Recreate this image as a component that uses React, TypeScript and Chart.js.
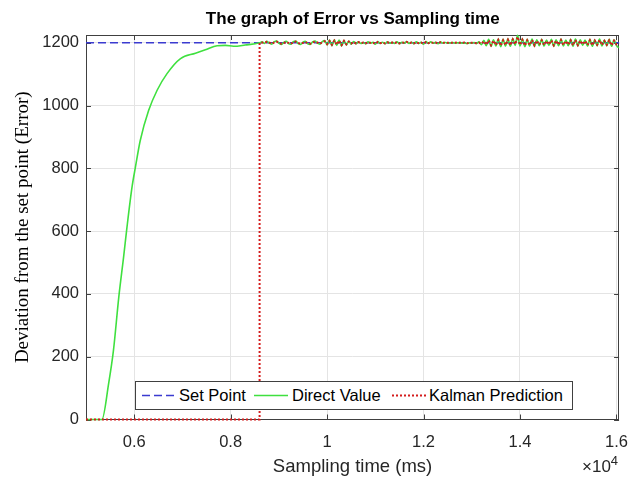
import React, { useEffect, useRef } from 'react';
import { Chart, registerables } from 'chart.js';

Chart.register(...registerables);

// ---------------- data ----------------
const titleText = 'The graph of Error vs Sampling time';
const xTitle = 'Sampling time (ms)';
const yTitle = 'Deviation from the set point (Error)';
const seriesNames = ['Set Point', 'Direct Value', 'Kalman Prediction'];

const xLimits = [5000, 16055];
const yLimits = [0, 1225];
const xTickValues = [6000, 8000, 10000, 12000, 14000, 16000];
const xTickLabels = ['0.6', '0.8', '1', '1.2', '1.4', '1.6'];
const yTickValues = [0, 200, 400, 600, 800, 1000, 1200];

const setPointTimes = [5000, 16055];
const setPointValues = [1200, 1200];

// Direct value: rise phase
const rampTimes = [5000, 5330, 5470, 5570, 5680, 5780, 5850, 5955, 6025, 6125, 6300, 6475, 6680, 6960, 7270, 7475, 7720, 7890, 8060, 8300, 8600];
const rampDirect = [0, 0, 115, 221, 390, 518, 613, 741, 804, 889, 985, 1049, 1102, 1150, 1167, 1178, 1191, 1192, 1189, 1193, 1200];

// Kalman prediction: before it engages
const kalmanStartTimes = [5000, 8600, 8600];
const kalmanStartValues = [0, 0, 1200];

// steady phase sampled every 50 ms from 8650
const steadyStart = 8650;
const steadyStep = 50;
const steadyDirect = [
  1203, 1198, 1205, 1199, 1196, 1203, 1206, 1199, 1195, 1201,
  1205, 1198, 1196, 1204, 1206, 1198, 1195, 1202, 1205, 1197,
  1195, 1203, 1206, 1199, 1196, 1204, 1207, 1193, 1209, 1191,
  1210, 1192, 1209, 1190, 1208, 1193, 1206, 1196, 1204, 1197,
  1203, 1198, 1201, 1197, 1203, 1199, 1202, 1196, 1204, 1198,
  1202, 1197, 1203, 1199, 1202, 1198, 1203, 1197, 1202, 1199,
  1204, 1198, 1202, 1197, 1203, 1198, 1202, 1196, 1204, 1198,
  1203, 1199, 1202, 1197, 1203, 1199, 1201, 1199, 1200, 1201,
  1199, 1200, 1201, 1199, 1200, 1198, 1200, 1199, 1201, 1198,
  1203, 1194, 1208, 1191, 1211, 1189, 1210, 1190, 1212, 1188,
  1211, 1190, 1213, 1189, 1214, 1192, 1224, 1190, 1213, 1188,
  1211, 1190, 1212, 1189, 1210, 1191, 1211, 1190, 1209, 1192,
  1211, 1189, 1210, 1191, 1212, 1190, 1209, 1191, 1211, 1189,
  1212, 1190, 1210, 1192, 1209, 1190, 1211, 1189, 1210, 1191,
  1212, 1190, 1209, 1191, 1211, 1189, 1210, 1192, 1184,
];
const steadyKalman = [
  1201, 1200, 1203, 1201, 1197, 1201, 1204, 1201, 1197, 1199,
  1203, 1200, 1197, 1202, 1204, 1200, 1197, 1200, 1203, 1199,
  1197, 1201, 1204, 1201, 1197, 1202, 1205, 1196, 1206, 1194,
  1207, 1194, 1207, 1193, 1206, 1195, 1204, 1198, 1203, 1198,
  1202, 1199, 1201, 1198, 1202, 1200, 1201, 1197, 1203, 1199,
  1201, 1198, 1202, 1200, 1201, 1199, 1202, 1198, 1201, 1200,
  1203, 1199, 1201, 1198, 1202, 1199, 1201, 1197, 1203, 1199,
  1202, 1200, 1201, 1198, 1202, 1200, 1200, 1200, 1201, 1200,
  1200, 1201, 1200, 1200, 1201, 1199, 1200, 1200, 1200, 1199,
  1201, 1197, 1205, 1194, 1208, 1192, 1207, 1193, 1209, 1191,
  1208, 1193, 1210, 1192, 1211, 1195, 1219, 1193, 1210, 1191,
  1208, 1193, 1209, 1192, 1207, 1194, 1208, 1193, 1206, 1195,
  1208, 1192, 1207, 1194, 1209, 1193, 1206, 1194, 1208, 1192,
  1209, 1193, 1207, 1195, 1206, 1193, 1208, 1192, 1207, 1194,
  1209, 1193, 1206, 1194, 1208, 1192, 1207, 1195, 1196,
];

// ---------------- styles ----------------
const SANS = '"Liberation Sans", Arial, Helvetica, sans-serif';
const SERIF = '"Liberation Serif", "Times New Roman", Times, serif';
const BLUE = '#3b3bd0';
const GREEN = '#3fe03f';
const RED = '#d41c1c';
const AXIS = '#404040';
const TICK_TEXT = '#262626';

const W = 641;
const H = 479;
const AREA = { left: 86, top: 35, right: 619.5, bottom: 419.5 };

const framePlugin = {
  id: 'matlabFrame',
  beforeDatasetsDraw(chart: any) {
    const { ctx, chartArea, scales } = chart;
    const { left, right, top, bottom } = chartArea;
    ctx.save();
    ctx.strokeStyle = AXIS;
    ctx.lineWidth = 1;
    ctx.beginPath();
    for (const v of xTickValues) {
      const px = Math.round(scales.x.getPixelForValue(v)) + 0.5;
      ctx.moveTo(px, bottom);
      ctx.lineTo(px, bottom - 5);
      ctx.moveTo(px, top);
      ctx.lineTo(px, top + 5);
    }
    for (const v of yTickValues) {
      const py = Math.round(scales.y.getPixelForValue(v)) + 0.5;
      ctx.moveTo(left, py);
      ctx.lineTo(left + 5, py);
      ctx.moveTo(right, py);
      ctx.lineTo(right - 5, py);
    }
    ctx.stroke();
    ctx.strokeRect(Math.round(left) + 0.5, Math.round(top) + 0.5, Math.round(right - left) - 1, Math.round(bottom - top) - 1);
    ctx.restore();
  },
};

function toPoints(xs: number[], ys: number[]) {
  return xs.map((x, i) => ({ x, y: ys[i] }));
}

function steadyPoints(values: number[]) {
  return values.map((y, i) => ({ x: steadyStart + i * steadyStep, y }));
}

export default function App() {
  const canvasRef = useRef<HTMLCanvasElement | null>(null);

  useEffect(() => {
    if (!canvasRef.current) return;
    const directData = toPoints(rampTimes, rampDirect).concat(steadyPoints(steadyDirect));
    const kalmanData = toPoints(kalmanStartTimes, kalmanStartValues).concat(steadyPoints(steadyKalman));
    const setData = toPoints(setPointTimes, setPointValues);

    const chart = new Chart(canvasRef.current, {
      type: 'line',
      data: {
        datasets: [
          {
            label: seriesNames[0],
            data: setData,
            borderColor: BLUE,
            borderWidth: 1.5,
            borderDash: [8, 4],
            pointRadius: 0,
            order: 2,
            clip: 4,
          },
          {
            label: seriesNames[1],
            data: directData,
            borderColor: GREEN,
            borderWidth: 1.6,
            pointRadius: 0,
            cubicInterpolationMode: 'monotone',
            order: 1,
            clip: 4,
          },
          {
            label: seriesNames[2],
            data: kalmanData,
            borderColor: RED,
            borderWidth: 2,
            borderDash: [2, 2],
            pointRadius: 0,
            tension: 0,
            order: 0,
            clip: 4,
          },
        ] as any,
      },
      options: {
        responsive: false,
        animation: false,
        events: [],
        layout: { padding: { left: 0, right: W - AREA.right, top: AREA.top, bottom: 0 } },
        plugins: {
          legend: { display: false },
          tooltip: { enabled: false },
          title: { display: false },
        },
        scales: {
          x: {
            type: 'linear',
            min: xLimits[0],
            max: xLimits[1],
            afterBuildTicks: (s: any) => {
              s.ticks = xTickValues.map((value) => ({ value }));
            },
            afterFit: (s: any) => {
              s.height = H - AREA.bottom;
            },
            ticks: {
              autoSkip: false,
              maxRotation: 0,
              padding: 13,
              color: TICK_TEXT,
              font: { family: SANS, size: 16.5, lineHeight: 1.2 },
              callback: (v: any) => {
                const idx = xTickValues.indexOf(Number(v));
                return idx >= 0 ? xTickLabels[idx] : '';
              },
            },
            grid: { color: '#e4e4e4', drawTicks: false, lineWidth: 1 },
            border: { display: false },
            title: {
              display: true,
              text: xTitle,
              color: TICK_TEXT,
              font: { family: SANS, size: 18.5, lineHeight: 1.2 },
              padding: { top: 0, bottom: 1 },
            },
          },
          y: {
            type: 'linear',
            min: yLimits[0],
            max: yLimits[1],
            afterBuildTicks: (s: any) => {
              s.ticks = yTickValues.map((value) => ({ value }));
            },
            afterFit: (s: any) => {
              s.width = AREA.left;
            },
            ticks: {
              autoSkip: false,
              padding: 7,
              color: TICK_TEXT,
              font: { family: SANS, size: 16.5, lineHeight: 1.2 },
              callback: (v: any) => String(v),
            },
            grid: { color: '#e4e4e4', drawTicks: false, lineWidth: 1 },
            border: { display: false },
            title: {
              display: true,
              text: yTitle,
              color: '#000',
              font: { family: SERIF, size: 19, lineHeight: 1.2 },
              padding: { top: 11.5, bottom: 0 },
            },
          },
        },
      } as any,
      plugins: [framePlugin],
    });
    return () => chart.destroy();
  }, []);

  const legendText: React.CSSProperties = {
    position: 'absolute',
    top: 0,
    height: 27,
    lineHeight: '27px',
    fontFamily: SANS,
    fontSize: 16.5,
    color: '#000',
    whiteSpace: 'nowrap',
  };

  return (
    <div style={{ position: 'fixed', left: 0, top: 0, width: W, height: H, background: '#fff' }}>
      <canvas ref={canvasRef} width={W} height={H} style={{ display: 'block', width: W, height: H }} />
      <div
        style={{
          position: 'absolute',
          left: AREA.left,
          width: AREA.right - AREA.left,
          top: 8,
          height: 22,
          lineHeight: '22px',
          textAlign: 'center',
          fontFamily: SANS,
          fontSize: 17,
          fontWeight: 'bold',
          color: '#000',
          whiteSpace: 'nowrap',
        }}
      >
        {titleText}
      </div>
      <div
        style={{
          position: 'absolute',
          left: 135,
          top: 381,
          width: 438,
          height: 29,
          boxSizing: 'border-box',
          border: `1px solid ${AXIS}`,
          background: '#fff',
        }}
      >
        <svg style={{ position: 'absolute', left: 6, top: 0 }} width={36} height={27}>
          <line x1={0} y1={13.5} x2={36} y2={13.5} stroke={BLUE} strokeWidth={1.5} strokeDasharray="8 4" />
        </svg>
        <span style={{ ...legendText, left: 43 }}>{seriesNames[0]}</span>
        <svg style={{ position: 'absolute', left: 118, top: 0 }} width={34} height={27}>
          <line x1={0} y1={13.5} x2={34} y2={13.5} stroke={GREEN} strokeWidth={1.6} />
        </svg>
        <span style={{ ...legendText, left: 156 }}>{seriesNames[1]}</span>
        <svg style={{ position: 'absolute', left: 256, top: 0 }} width={35} height={27}>
          <line x1={0} y1={13.5} x2={35} y2={13.5} stroke={RED} strokeWidth={2} strokeDasharray="2 2" />
        </svg>
        <span style={{ ...legendText, left: 293 }}>{seriesNames[2]}</span>
      </div>
      <div
        style={{
          position: 'absolute',
          left: 582,
          top: 457,
          fontFamily: SANS,
          fontSize: 17,
          color: TICK_TEXT,
          whiteSpace: 'nowrap',
          lineHeight: '20px',
        }}
      >
        ×10<span style={{ fontSize: 13, position: 'relative', top: -7 }}>4</span>
      </div>
    </div>
  );
}
